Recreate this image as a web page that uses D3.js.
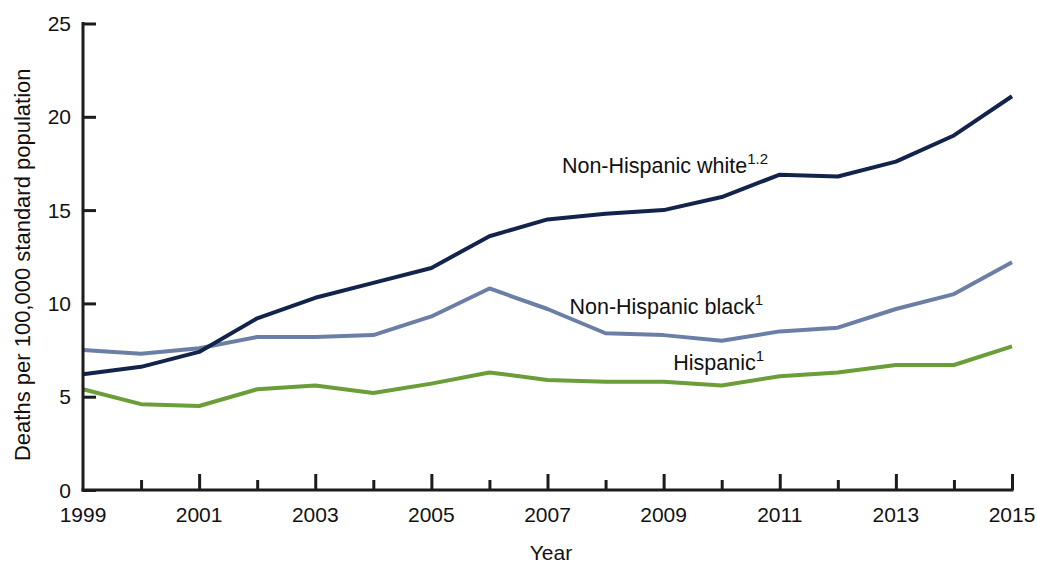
<!DOCTYPE html>
<html>
<head>
<meta charset="utf-8">
<script src="https://cdn.jsdelivr.net/npm/d3@7"></script>
<style>
  html, body { margin: 0; padding: 0; background: #fff; }
  svg { display: block; font-family: "Liberation Sans", Arial, sans-serif; }
</style>
</head>
<body>
<svg id="chart" width="1037" height="565"></svg>
<script>
const years = [1999,2000,2001,2002,2003,2004,2005,2006,2007,2008,2009,2010,2011,2012,2013,2014,2015];
const nhWhite = [6.2,6.6,7.4,9.2,10.3,11.1,11.9,13.6,14.5,14.8,15.0,15.7,16.9,16.8,17.6,19.0,21.1];
const nhBlack = [7.5,7.3,7.6,8.2,8.2,8.3,9.3,10.8,9.7,8.4,8.3,8.0,8.5,8.7,9.7,10.5,12.2];
const hispanic = [5.4,4.6,4.5,5.4,5.6,5.2,5.7,6.3,5.9,5.8,5.8,5.6,6.1,6.3,6.7,6.7,7.7];
const yTicks = [0,5,10,15,20,25];
const xLabelYears = [1999,2001,2003,2005,2007,2009,2011,2013,2015];
const seriesNames = ["Non-Hispanic white", "Non-Hispanic black", "Hispanic"];
const seriesNotes = ["1.2", "1", "1"];

const svg = d3.select("#chart");
const x = d3.scaleLinear().domain([1999, 2015]).range([83, 1012]);
const y = d3.scaleLinear().domain([0, 25]).range([490, 23.5]);

const axisColor = "#1c1c1c";

// Lines
const line = d3.line().x((d, i) => x(years[i])).y(d => y(d));
const series = [
  { name: seriesNames[0], note: seriesNotes[0], values: nhWhite, color: "#13244c", lx: 768, ly: 173 },
  { name: seriesNames[1], note: seriesNotes[1], values: nhBlack, color: "#6b7fa6", lx: 763, ly: 314 },
  { name: seriesNames[2], note: seriesNotes[2], values: hispanic, color: "#6b9d38", lx: 764, ly: 370 }
];

// draw order: hispanic, black, white on top
[series[2], series[1], series[0]].forEach(s => {
  svg.append("path")
    .datum(s.values)
    .attr("d", line)
    .attr("fill", "none")
    .attr("stroke", s.color)
    .attr("stroke-width", 4)
    .attr("stroke-linejoin", "round")
    .attr("stroke-linecap", "butt");
});

// Y axis
const yAxis = d3.axisRight(y).tickValues(yTicks).tickSize(13).tickFormat("");
const gy = svg.append("g").attr("transform", `translate(${x(1999)},0)`).call(yAxis);
gy.select(".domain").remove();
gy.selectAll(".tick line").attr("stroke", axisColor).attr("stroke-width", 3);
svg.append("line")
  .attr("x1", x(1999)).attr("x2", x(1999))
  .attr("y1", y(25) - 1.5).attr("y2", y(0) + 1.5)
  .attr("stroke", axisColor).attr("stroke-width", 3);
svg.append("g").selectAll("text").data(yTicks).join("text")
  .attr("x", 71).attr("y", d => y(d)).attr("dy", "0.36em")
  .attr("text-anchor", "end").attr("font-size", 21).attr("fill", "#111")
  .text(d => d);

// X axis
const xAxis = d3.axisTop(x).tickValues(years).tickSize(10).tickFormat("");
const gx = svg.append("g").attr("transform", `translate(0,${y(0)})`).call(xAxis);
gx.select(".domain").remove();
gx.selectAll(".tick line")
  .attr("stroke", axisColor).attr("stroke-width", 3)
  .attr("y2", d => (d - 1999) % 2 === 0 ? -16 : -10);
gx.selectAll(".tick").filter(d => d === 1999).remove();
svg.append("line")
  .attr("x1", x(1999) - 1.5).attr("x2", x(2015) + 1.5)
  .attr("y1", y(0)).attr("y2", y(0))
  .attr("stroke", axisColor).attr("stroke-width", 3);
svg.append("g").selectAll("text").data(xLabelYears).join("text")
  .attr("x", d => x(d)).attr("y", 522)
  .attr("text-anchor", "middle").attr("font-size", 21).attr("fill", "#111")
  .text(d => d);

// Axis titles
svg.append("text")
  .attr("transform", `translate(30,${(y(0) + y(25)) / 2 + 8}) rotate(-90)`)
  .attr("text-anchor", "middle").attr("font-size", 22).attr("fill", "#111")
  .text("Deaths per 100,000 standard population");
svg.append("text")
  .attr("x", 551).attr("y", 560)
  .attr("text-anchor", "middle").attr("font-size", 21).attr("fill", "#111")
  .text("Year");

// Series labels
series.forEach(s => {
  const t = svg.append("text")
    .attr("x", s.lx).attr("y", s.ly)
    .attr("text-anchor", "end").attr("font-size", 21.5).attr("fill", "#111");
  t.append("tspan").text(s.name);
  t.append("tspan").attr("font-size", 15).attr("dy", -9).text(s.note);
});
</script>
</body>
</html>
